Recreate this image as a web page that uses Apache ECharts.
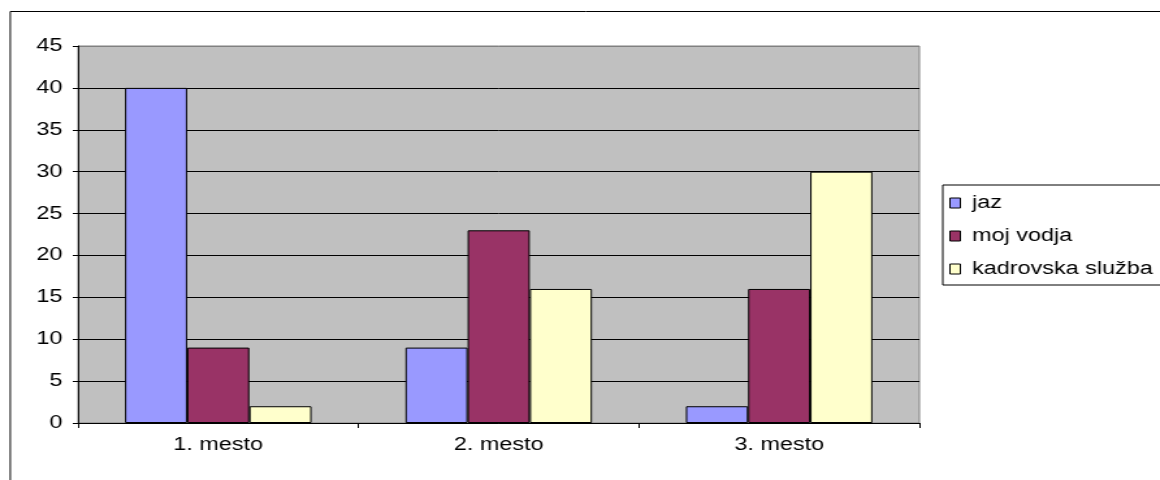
<!DOCTYPE html>
<html>
<head>
<meta charset="utf-8">
<script src="https://cdn.jsdelivr.net/npm/echarts@6/dist/echarts.min.js"></script>
<style>
  html, body { margin: 0; padding: 0; background: #fff; overflow: hidden; }
  /* the original picture is stretched sideways, so draw narrower and stretch */
  #chart { width: 892px; height: 480px; transform: scaleX(1.3004); transform-origin: 0 0; }
</style>
</head>
<body>
<div id="chart"></div>
<script>
const categories = ['1. mesto', '2. mesto', '3. mesto'];
const jaz = [40, 9, 2];
const mojVodja = [9, 23, 16];
const kadrovska = [2, 16, 30];

const font = 'Liberation Sans, Arial, sans-serif';

const barSeries = (name, data, color) => ({
  name: name,
  type: 'bar',
  data: data,
  barGap: '0%',
  barCategoryGap: '33.5%',
  itemStyle: { color: color, borderColor: '#000', borderWidth: 1 },
  emphasis: { disabled: true }
});

// black grid lines, grey for the top edge
const gridColors = ['#000', '#000', '#000', '#000', '#000', '#000', '#000', '#000', '#000', '#808080'];

const chart = echarts.init(document.getElementById('chart'));
chart.setOption({
  animation: false,
  textStyle: { fontFamily: font },
  graphic: [{
    type: 'rect',
    shape: { x: 7.9, y: 11.5, width: 1000, height: 600 },
    style: { fill: 'none', stroke: '#000', lineWidth: 1 },
    silent: true
  }],
  grid: {
    left: 60, top: 46, right: 185, bottom: 57,
    show: true, backgroundColor: '#c0c0c0', borderColor: '#808080', borderWidth: 1
  },
  legend: {
    orient: 'vertical',
    left: 725, top: 185,
    padding: [9, 38, 7, 5],
    itemWidth: 8, itemHeight: 10, itemGap: 15,
    borderColor: '#000', borderWidth: 1,
    backgroundColor: '#fff',
    textStyle: { fontFamily: font, fontSize: 18, color: '#000', padding: [0, 0, 0, 4] },
    itemStyle: { borderColor: '#000', borderWidth: 1 },
    icon: 'rect',
    data: ['jaz', 'moj vodja', 'kadrovska služba']
  },
  xAxis: {
    type: 'category',
    data: categories,
    axisLine: { lineStyle: { color: '#000' } },
    axisTick: { show: true, length: 5, lineStyle: { color: '#000' } },
    axisLabel: { color: '#000', fontSize: 18, margin: 13, fontFamily: font },
    splitLine: { show: false }
  },
  yAxis: {
    type: 'value',
    min: 0, max: 45, interval: 5,
    axisLine: { show: true, lineStyle: { color: '#000' } },
    axisTick: { show: true, length: 4, lineStyle: { color: '#000' } },
    axisLabel: { color: '#000', fontSize: 18, margin: 12, fontFamily: font },
    splitLine: { lineStyle: { color: gridColors, width: 1 } }
  },
  series: [
    barSeries('jaz', jaz, '#9999ff'),
    barSeries('moj vodja', mojVodja, '#993366'),
    barSeries('kadrovska služba', kadrovska, '#ffffcc')
  ]
});
</script>
</body>
</html>
